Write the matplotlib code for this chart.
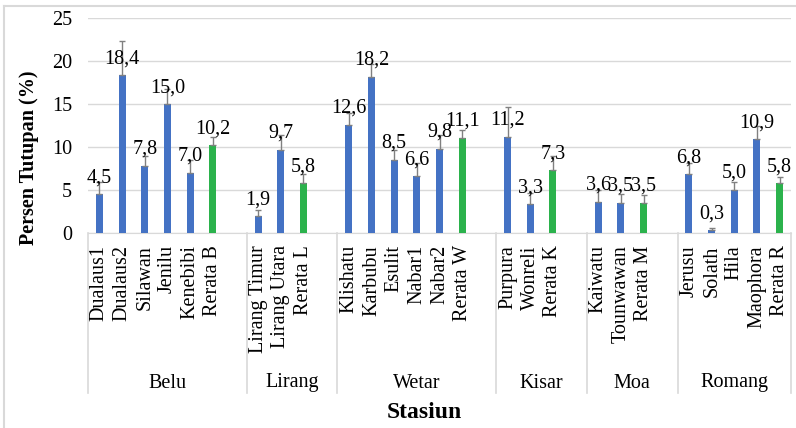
import matplotlib.pyplot as plt
import matplotlib.transforms as mtransforms
from matplotlib.lines import Line2D

plt.rcParams["font.family"] = ["Liberation Serif", "DejaVu Serif"]

# Tutupan per stasiun, dikelompokkan per pulau
groups = ["Belu", "Lirang", "Wetar", "Kisar", "Moa", "Romang"]

belu_sites = ["Dualaus1", "Dualaus2", "Silawan", "Jenilu", "Kenebibi", "Rerata B"]
belu_cover = [4.5, 18.4, 7.8, 15.0, 7.0, 10.2]
belu_err = [1.4, 3.9, 1.1, 1.7, 1.5, 1.0]

lirang_sites = ["Lirang Timur", "Lirang Utara", "Rerata L"]
lirang_cover = [1.9, 9.7, 5.8]
lirang_err = [0.8, 1.7, 1.05]

wetar_sites = ["Klishatu", "Karbubu", "Esulit", "Nabar1", "Nabar2", "Rerata W"]
wetar_cover = [12.6, 18.2, 8.5, 6.6, 9.8, 11.1]
wetar_err = [1.3, 1.5, 1.1, 1.5, 1.6, 0.9]

kisar_sites = ["Purpura", "Wonreli", "Rerata K"]
kisar_cover = [11.2, 3.3, 7.3]
kisar_err = [3.4, 1.3, 1.6]

moa_sites = ["Kaiwatu", "Tounwawan", "Rerata M"]
moa_cover = [3.6, 3.5, 3.5]
moa_err = [1.4, 1.0, 0.9]

romang_sites = ["Jerusu", "Solath", "Hila", "Maophora", "Rerata R"]
romang_cover = [6.8, 0.3, 5.0, 10.9, 5.8]
romang_err = [1.3, 0.2, 0.95, 1.5, 0.7]

site_lists = [belu_sites, lirang_sites, wetar_sites, kisar_sites, moa_sites, romang_sites]
cover_lists = [belu_cover, lirang_cover, wetar_cover, kisar_cover, moa_cover, romang_cover]
err_lists = [belu_err, lirang_err, wetar_err, kisar_err, moa_err, romang_err]

BLUE = "#4472C4"
GREEN = "#2BB24C"
GRID = "#D9D9D9"

fig = plt.figure(figsize=(7.96, 4.28), dpi=100)
ax = fig.add_axes([88 / 796, 1 - 232.7 / 428, 703 / 796, 214.4 / 428])

# posisi kategori: tiap pulau diberi satu slot kosong di akhir (kecuali terakhir)
xs, labels, bounds, centers = [], [], [-0.5], []
pos = 0
for gi, sites in enumerate(site_lists):
    start = pos
    for s in sites:
        xs.append(pos)
        labels.append(s)
        pos += 1
    if gi < len(site_lists) - 1:
        pos += 1
    bounds.append(pos - 0.5)
    centers.append((start - 0.5 + pos - 0.5) / 2)

cover = [v for g in cover_lists for v in g]
err = [e for g in err_lists for e in g]
colors = [GREEN if s.startswith("Rerata") else BLUE for s in labels]

ax.bar(xs, cover, width=0.31, color=colors, zorder=3)
ax.errorbar(xs, cover, yerr=[[0] * len(err), err], fmt="none",
            ecolor="#808080", elinewidth=1, capsize=2.5, capthick=1, zorder=4)

for x, v in zip(xs, cover):
    ax.annotate(f"{v:.1f}".replace(".", ","), (x, v), xytext=(0, 8.5),
                textcoords="offset points", ha="center", va="baseline",
                fontsize=14.5, zorder=5)

ax.set_xlim(-0.5, pos - 0.5)
ax.set_ylim(0, 25)
ax.set_yticks([0, 5, 10, 15, 20, 25])
ax.yaxis.grid(True, color=GRID, linewidth=1)
ax.set_axisbelow(True)
ax.set_xticks(xs)
ax.set_xticklabels(labels, rotation=90, va="top", ha="center")
ax.tick_params(axis="x", length=0, pad=9, labelsize=14.5)
ax.tick_params(axis="y", length=0, pad=11.5, labelsize=14.5)
for side in ["top", "right", "left"]:
    ax.spines[side].set_visible(False)
ax.spines["bottom"].set_color(GRID)

# garis pemisah pulau dan nama pulau di bawah sumbu
trans = mtransforms.blended_transform_factory(ax.transData, fig.transFigure)
y_axis = 1 - 232.7 / 428
y_low = 1 - 393 / 428
for b in bounds:
    ax.add_line(Line2D([b, b], [y_axis, y_low], transform=trans,
                       color=GRID, linewidth=1.2, clip_on=False))
for c, name in zip(centers, groups):
    ax.text(c, 1 - 383 / 428, name, transform=trans, ha="center",
            va="center", fontsize=14.5)

fig.text(29 / 796, 1 - 157.5 / 428, "Persen Tutupan (%)", rotation=90,
         ha="center", va="center", fontsize=14.5, fontweight="bold")
fig.text(424 / 796, 1 - 413 / 428, "Stasiun", ha="center", va="center",
         fontsize=17, fontweight="bold")

# bingkai tipis di sekeliling gambar
fig.add_artist(Line2D([4 / 796, 1], [1 - 6 / 428] * 2, transform=fig.transFigure,
                      color=GRID, linewidth=1.5))
fig.add_artist(Line2D([4 / 796] * 2, [0, 1 - 6 / 428], transform=fig.transFigure,
                      color=GRID, linewidth=1.5))

fig.savefig("out.png", dpi=100)
